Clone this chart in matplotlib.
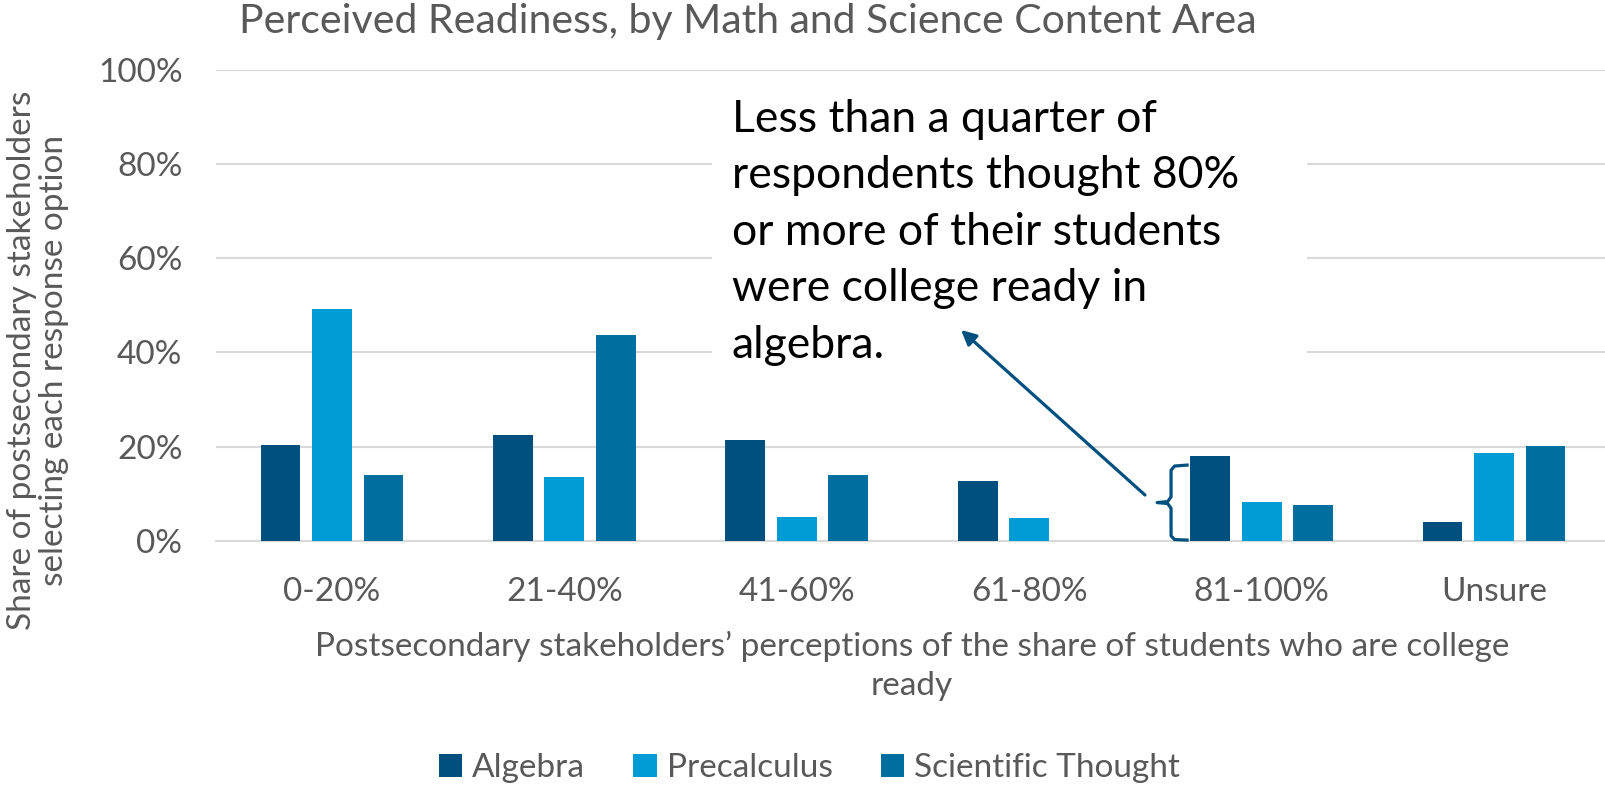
import numpy as np
import matplotlib.pyplot as plt
from matplotlib.patches import Rectangle

categories = ['0-20%', '21-40%', '41-60%', '61-80%', '81-100%', 'Unsure']
series = ['Algebra', 'Precalculus', 'Scientific Thought']
algebra = [20.4, 22.5, 21.4, 12.8, 18.1, 4.1]
precalculus = [49.2, 13.6, 5.0, 4.9, 8.3, 18.6]
scientific = [14.0, 43.7, 14.0, 0.0, 7.6, 20.2]
yticks = [0, 20, 40, 60, 80, 100]

colors = ['#00507F', '#009CD5', '#006E9E']
gray = '#595959'

plt.rcParams['font.family'] = ['Lato', 'DejaVu Sans']

W, H = 1606, 794
fig = plt.figure(figsize=(W / 100, H / 100), dpi=100)
ax = fig.add_axes([215.8 / W, 1 - 541 / H, 1394.4 / W, 471.5 / H])

x = np.arange(len(categories))
w = 0.172
step = 0.2216
for i, vals in enumerate([algebra, precalculus, scientific]):
    ax.bar(x + (i - 1) * step, vals, w, color=colors[i], label=series[i], zorder=3)

ax.set_xlim(-0.5, len(categories) - 0.5)
ax.set_ylim(0, 100)
ax.set_yticks(yticks)
ax.set_yticklabels(['{}%'.format(t) for t in yticks])
ax.set_xticks(x)
ax.set_xticklabels(categories)
ax.tick_params(axis='both', length=0, labelsize=24, labelcolor=gray)
ax.tick_params(axis='x', pad=26)
ax.tick_params(axis='y', pad=24)
ax.yaxis.grid(True, color='#D9D9D9', lw=1.5)
ax.set_axisbelow(True)
for s in ['top', 'right', 'left']:
    ax.spines[s].set_visible(False)
ax.spines['bottom'].set_color('#D9D9D9')
ax.spines['bottom'].set_linewidth(1.5)

# white box behind the callout text
ax.add_patch(Rectangle((1.635, 25), 2.56, 70, facecolor='white', edgecolor='none', zorder=1))
ax.text(1.72, 65.5, 'Less than a quarter of\nrespondents thought 80%\nor more of their students\nwere college ready in\nalgebra.',
        fontsize=32, color='black', va='center', ha='left', linespacing=1.47, zorder=4)

# arrow + brace on the 81-100% algebra bar
k = categories.index('81-100%')
ax.annotate('', xy=(2.707, 44.75), xytext=(3.498, 9.76),
            arrowprops=dict(arrowstyle='-|>', color=colors[0], lw=2.3, mutation_scale=22,
                            shrinkA=0, shrinkB=0), zorder=5)
bx = k - step - w / 2
top = algebra[k] - 2
brace_x = [bx - 0.013, bx - 0.067, bx - 0.082, bx - 0.082, bx - 0.097, bx - 0.142,
           bx - 0.097, bx - 0.082, bx - 0.082, bx - 0.067, bx - 0.013]
mid = top / 2 + 0.1
brace_y = [top, top - 0.2, top - 1.1, mid + 1.2, mid + 0.2, mid, mid - 0.2, mid - 1.2, 1.1, 0.3, 0.2]
ax.plot(brace_x, brace_y, color=colors[0], lw=2.3, solid_joinstyle='round', clip_on=False, zorder=5)

fig.text(239 / W, 1 - 21 / H, 'Perceived Readiness, by Math and Science Content Area',
         fontsize=29.5, color=gray, ha='left', va='center')
fig.text(912 / W, 1 - 666 / H,
         'Postsecondary stakeholders\u2019 perceptions of the share of students who are college\nready',
         fontsize=24, color=gray, ha='center', va='center', linespacing=1.4)
fig.text(38 / W, 1 - 360 / H, 'Share of postsecondary stakeholders\nselecting each response option',
         fontsize=24, color=gray, ha='center', va='center', rotation=90, linespacing=1.05)

fig.legend(loc='center', bbox_to_anchor=(0.504, 1 - 768 / H), ncol=3, frameon=False,
           fontsize=24, labelcolor=gray, handlelength=0.7, handleheight=0.7,
           handletextpad=0.3, columnspacing=1.45)

fig.savefig('out.png', dpi=100)
